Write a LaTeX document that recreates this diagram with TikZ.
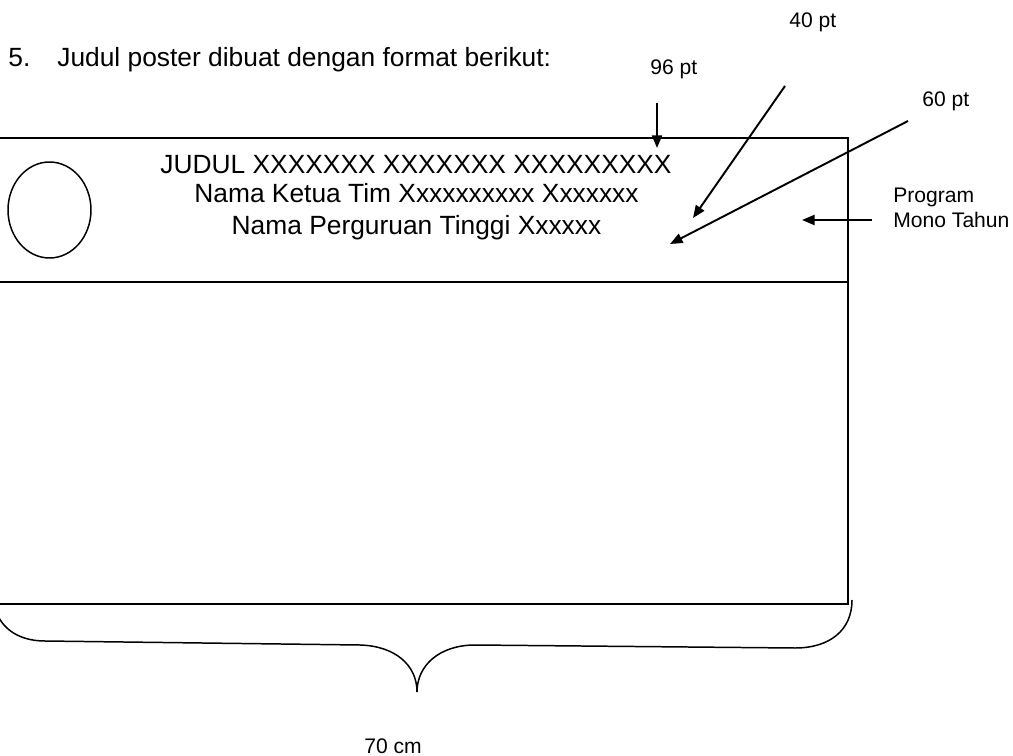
\documentclass[tikz,border=0pt]{standalone}
\usepackage{fontspec}
\setmainfont{Liberation Sans}
\usetikzlibrary{arrows.meta,shapes.geometric}
\begin{document}
\begin{tikzpicture}[x=0.02cm,y=-0.02cm,
  frame/.style={line width=0.85pt},
  pointer/.style={line width=1.1pt,-{Triangle[length=0.25cm,width=0.2cm]}},
  big/.style={font=\fontsize{15}{18}\selectfont, inner sep=0pt},
  small/.style={font=\fontsize{12}{14}\selectfont, inner sep=0pt, anchor=base west}]
\useasboundingbox (0,0) rectangle (1013,756);
\clip (0,0) rectangle (1013,756);
% frame coordinates
\coordinate (tl) at (-5,138);
\coordinate (tr) at (848,138);
\coordinate (ml) at (-5,282);
\coordinate (mr) at (848,282);
\coordinate (bl) at (-5,604);
\coordinate (br) at (848,604);
\draw[frame] (tl) -- (tr) -- (br) -- (bl);
\draw[frame] (ml) -- (mr);
% logo circle
\node[draw, ellipse, line width=0.85pt, minimum width=1.66cm, minimum height=1.92cm, inner sep=0pt] (logo) at (49.5,210) {};
% texts
\node[big, anchor=base west] (num) at (8,67) {5.};
\node[big, anchor=base west] (intro) at (57,67) {Judul poster dibuat dengan format berikut:};
\node[big, anchor=base] (t1) at (416,174) {JUDUL XXXXXXX XXXXXXX XXXXXXXXX};
\node[big, anchor=base] (t2) at (416.5,203) {Nama Ketua Tim Xxxxxxxxxx Xxxxxxx};
\node[big, anchor=base] (t3) at (416.5,235) {Nama Perguruan Tinggi Xxxxxx};
% small labels
\node[small] (l96) at (650,75) {96 pt};
\node[small] (l40) at (789,28) {40 pt};
\node[small] (l60) at (922,107) {60 pt};
\node[small] (lprog) at (893,203) {Program};
\node[small] (lmono) at (893,228) {Mono Tahun};
\node[small] (l70) at (364,753) {70 cm};
% arrows
\coordinate (a96s) at (657,103);
\coordinate (a96e) at (657,148);
\coordinate (a40s) at (785,86);
\coordinate (a40e) at (693,218);
\coordinate (a60s) at (908,121);
\coordinate (a60e) at (670,244);
\coordinate (aps) at (872,220);
\coordinate (ape) at (802,220);
\draw[pointer] (a96s) -- (a96e);
\draw[pointer] (a40s) -- (a40e);
\draw[pointer] (a60s) -- (a60e);
\draw[pointer] (aps) -- (ape);
% brace
\coordinate (bs) at (-6,604);
\coordinate (b1) at (45,641);
\coordinate (b2) at (360,645);
\coordinate (btip) at (417,692);
\coordinate (b3) at (475,645);
\coordinate (b4) at (795,648);
\coordinate (be) at (852,600);
\draw[frame] (bs) .. controls (-2,625) and (15,641) .. (b1) -- (b2)
  .. controls (395,646) and (417,665) .. (btip)
  .. controls (417,665) and (440,645) .. (b3) -- (b4)
  .. controls (830,648) and (852,630) .. (be);
\end{tikzpicture}
\end{document}
